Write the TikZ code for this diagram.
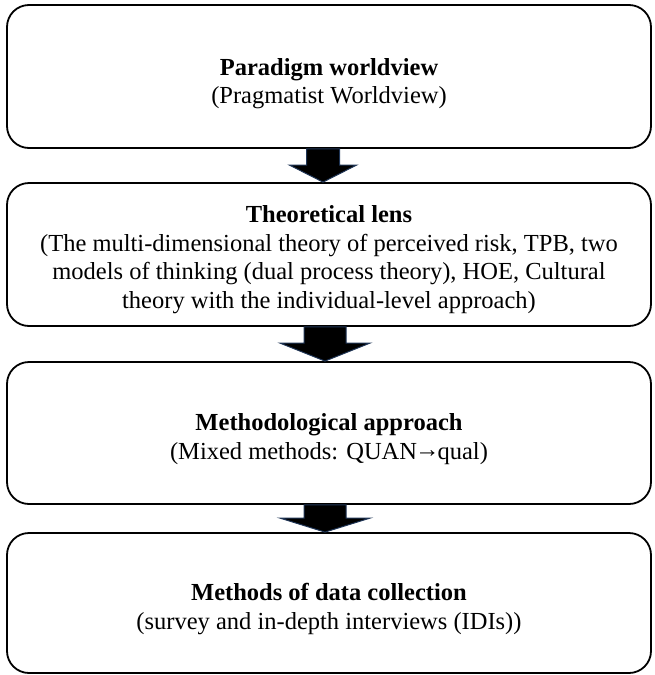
\documentclass[tikz,border=0pt]{standalone}
\usepackage{fontspec}
\setmainfont{Liberation Serif}
\usetikzlibrary{calc}

\definecolor{arrowedge}{HTML}{1F3556}

\tikzset{
  stagebox/.style={draw=black, line width=1.8pt, rounded corners=22pt,
    minimum width=644pt},
  stagetext/.style={align=center, inner sep=0pt,
    font=\fontsize{24.5}{28.5}\selectfont},
  blockarr/.style={fill=black, draw=arrowedge, line width=1pt, line join=miter}
}

% block arrow from the bottom of #1 to the top of #2
% #3 = horizontal offset of the axis, #4 = shaft half width,
% #5 = head half width, #6 = head length
\newcommand{\stagearrow}[6]{%
  \draw[blockarr]
    ($(#1.south)+(#3-#4,0)$) --
    ($(#2.north)+(#3-#4,-#6)$) --
    ($(#2.north)+(#3-#5,-#6)$) --
    ($(#2.north)+(#3,0)$) --
    ($(#2.north)+(#3+#5,-#6)$) --
    ($(#2.north)+(#3+#4,-#6)$) --
    ($(#1.south)+(#3+#4,0)$) -- cycle;}

\newcommand{\seqarrow}{\kern-2pt\raisebox{1.5pt}{→}\kern-2pt}

\begin{document}
\begin{tikzpicture}[x=1pt,y=-1pt]
  \useasboundingbox (0,0) rectangle (654,675);

  % the four stages
  \node[stagebox, minimum height=143pt] (world)   at (329,76.5) {};
  \node[stagebox, minimum height=143pt] (lens)    at (329,254.5) {};
  \node[stagebox, minimum height=142pt] (method)  at (329,433) {};
  \node[stagebox, minimum height=140pt] (collect) at (329,603) {};

  % their texts, set a little below the middle of each box
  \node[stagetext] (world-t) at ($(world.center)+(0,7)$)
    {\textbf{Paradigm worldview}\\(Pragmatist Worldview)};
  \node[stagetext] (lens-t) at ($(lens.center)+(0,5)$)
    {\textbf{Theoretical lens}\\
     (The multi-dimensional theory of perceived risk, TPB, two\\
     models of thinking (dual process theory), HOE, Cultural\\
     theory with the individual-level approach)};
  \node[stagetext] (method-t) at ($(method.center)+(0,6)$)
    {\textbf{Methodological approach}\\(Mixed methods: QUAN\seqarrow qual)};
  \node[stagetext] (collect-t) at ($(collect.center)+(0,6)$)
    {\textbf{Methods of data collection}\\(survey and in-depth interviews (IDIs))};

  \stagearrow{world}{lens}{-6}{16.5}{33.5}{17}
  \stagearrow{lens}{method}{-4}{21}{45}{18}
  \stagearrow{method}{collect}{-4}{21}{45}{14}
\end{tikzpicture}
\end{document}
